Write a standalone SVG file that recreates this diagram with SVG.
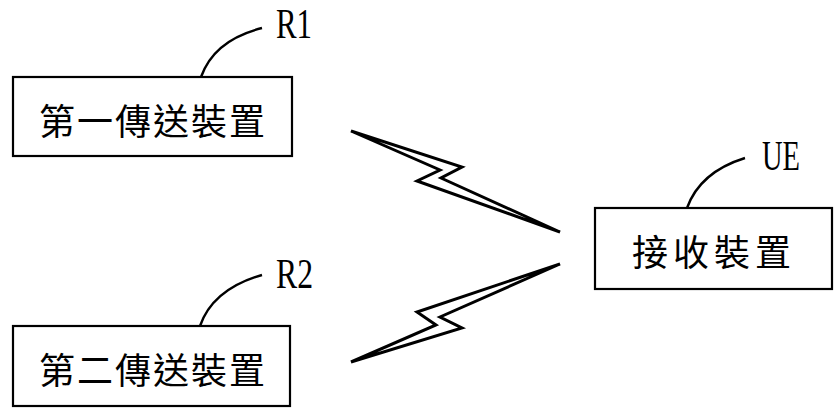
<svg xmlns="http://www.w3.org/2000/svg" width="834" height="410" viewBox="0 0 834 410">
<style>
.box{fill:#fff;stroke:#000;stroke-width:2.2}
.cjk{font-family:"Noto Sans CJK TC","Noto Sans CJK SC",serif;font-size:36px;fill:#000;dominant-baseline:central}
.lbl{font-family:"Liberation Serif",serif;font-size:43px;fill:#000}
.lead{fill:none;stroke:#000;stroke-width:2.4}
.bolt{fill:#fff;stroke:#000;stroke-width:3;stroke-linejoin:miter}
</style>
<rect width="834" height="410" fill="#fff"/>
<g id="R1">
<rect class="box" x="13" y="77" width="279" height="79"/>
<text class="cjk" x="39" y="119" letter-spacing="2">第一傳送裝置</text>
<path class="lead" d="M201,77 Q214,40 262,28"/>
<text class="lbl" x="276" y="38" textLength="36" lengthAdjust="spacingAndGlyphs">R1</text>
</g>
<g id="R2">
<rect class="box" x="13" y="326" width="277" height="80"/>
<text class="cjk" x="39" y="368" letter-spacing="2">第二傳送裝置</text>
<path class="lead" d="M200,326 Q213,289 262,275"/>
<text class="lbl" x="276" y="288" textLength="37" lengthAdjust="spacingAndGlyphs">R2</text>
</g>
<g id="UE">
<rect class="box" x="595" y="208" width="237" height="81"/>
<text class="cjk" x="632" y="250" letter-spacing="5">接收裝置</text>
<path class="lead" d="M687,208 Q700,172 745,158"/>
<text class="lbl" x="762" y="170" textLength="38" lengthAdjust="spacingAndGlyphs">UE</text>
</g>
<g id="connectors">
<polygon class="bolt" points="351,131 462,167 441,178 560,232 417,181 440,170"/>
<polygon class="bolt" points="351,362 462,328 440,317 560,264 417,312 436,325"/>
</g>
</svg>
